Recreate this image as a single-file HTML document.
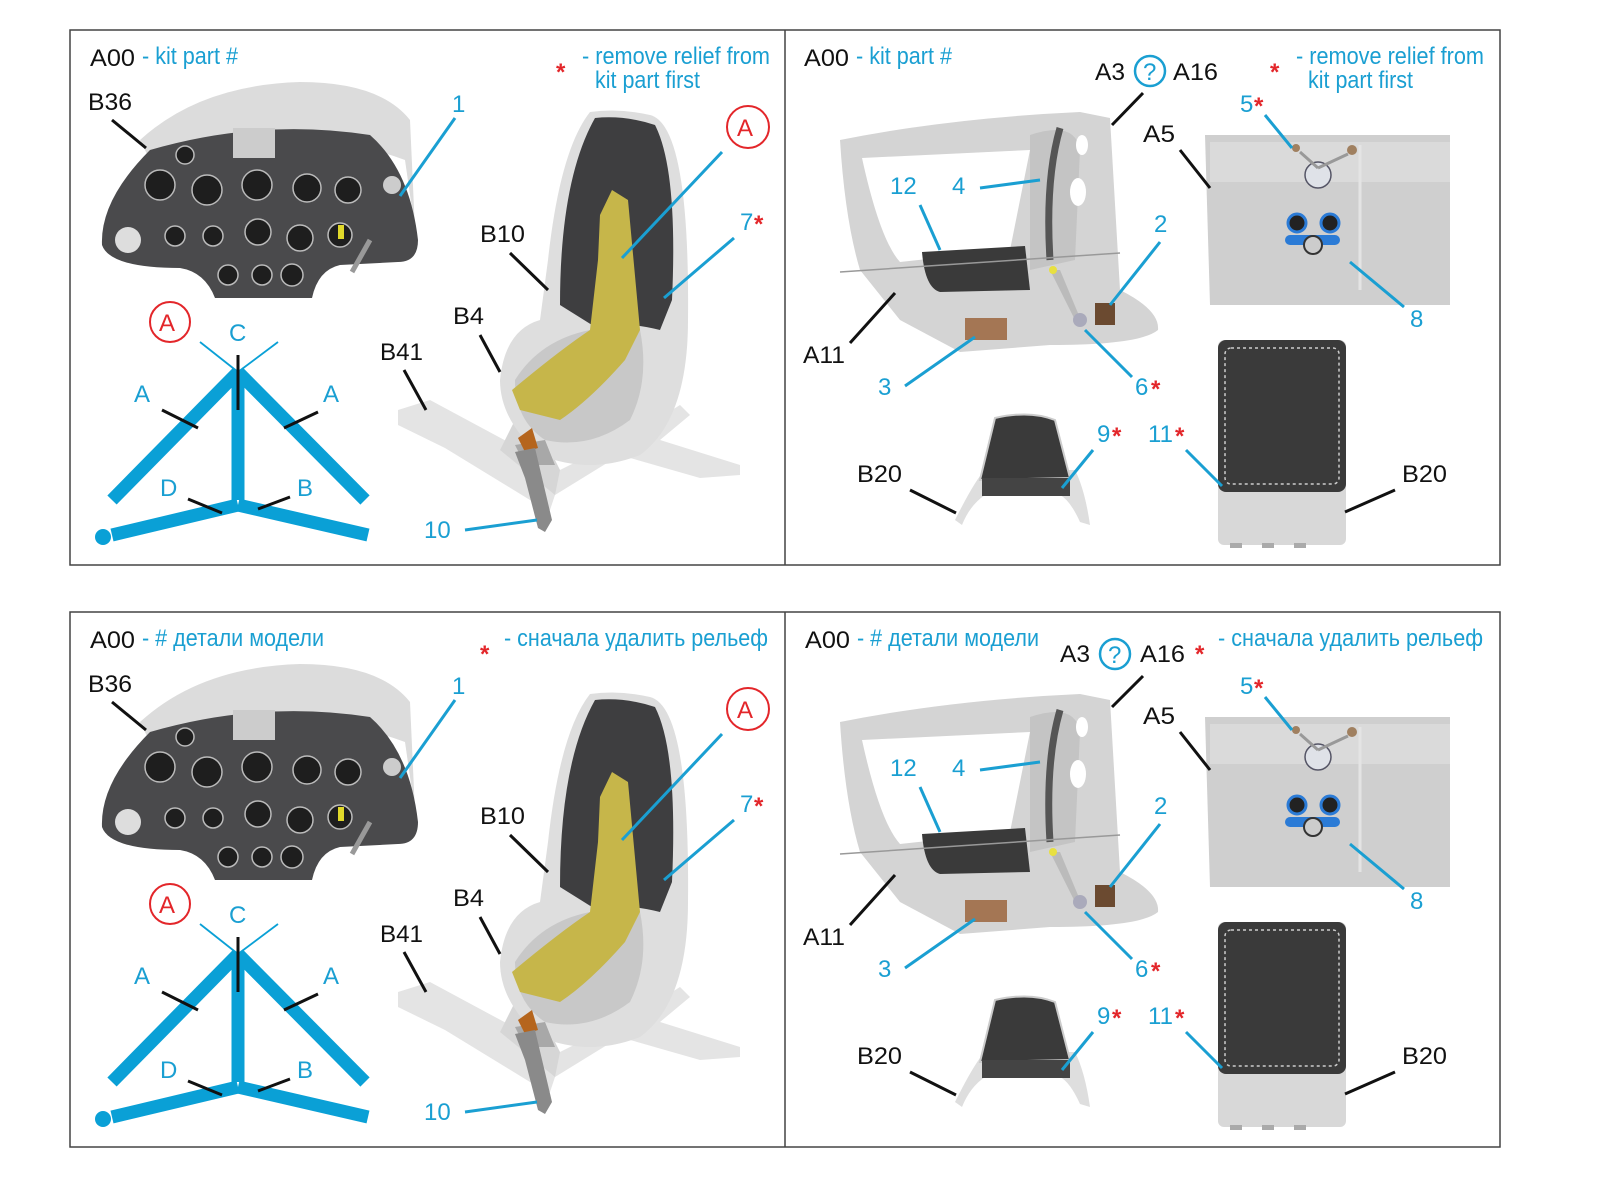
<!DOCTYPE html>
<html><head><meta charset="utf-8"><style>
html,body{margin:0;padding:0;background:#fff;overflow:hidden;width:1600px;height:1200px}
svg{display:block}
text{font-family:"Liberation Sans","DejaVu Sans",sans-serif;font-size:24px}
.k{fill:#111}.b{fill:#1a9fd2}.r{fill:#e3262a;font-weight:bold}
.lk{stroke:#111;stroke-width:3;fill:none}
.lb{stroke:#1a9fd2;stroke-width:3;fill:none}
</style></head><body>
<svg width="1600" height="1200" viewBox="0 0 1600 1200" xmlns="http://www.w3.org/2000/svg">
<defs>
<g id="G">
 <rect x="70" y="30" width="1430" height="535" fill="none" stroke="#444" stroke-width="1.5"/>
 <line x1="785" y1="30" x2="785" y2="565" stroke="#444" stroke-width="1.5"/>
 <path d="M140,140 Q200,85 300,82 Q380,82 410,120 L415,230 L405,160 Q300,120 150,160Z" fill="#dcdcdc"/>
 <path d="M150,150 Q260,118 370,135 Q410,170 418,240 Q418,262 398,262 L340,265 Q318,270 312,298 L215,298 Q205,272 180,268 Q110,268 102,245 Q100,200 150,150Z" fill="#4a4a4c"/>
 <g fill="#1e1e1e" stroke="#bbb" stroke-width="1.5">
  <circle cx="160" cy="185" r="15"/><circle cx="207" cy="190" r="15"/><circle cx="257" cy="185" r="15"/>
  <circle cx="307" cy="188" r="14"/><circle cx="348" cy="190" r="13"/><circle cx="185" cy="155" r="9"/>
  <circle cx="175" cy="236" r="10"/><circle cx="213" cy="236" r="10"/><circle cx="258" cy="232" r="13"/>
  <circle cx="300" cy="238" r="13"/><circle cx="340" cy="235" r="12"/>
  <circle cx="228" cy="275" r="10"/><circle cx="262" cy="275" r="10"/><circle cx="292" cy="275" r="11"/>
 </g>
 <rect x="233" y="128" width="42" height="30" fill="#ccc"/>
 <circle cx="128" cy="240" r="13" fill="#ddd"/><circle cx="392" cy="185" r="9" fill="#ccc"/>
 <rect x="338" y="225" width="6" height="14" fill="#e0d82a"/>
 <line x1="370" y1="240" x2="352" y2="272" stroke="#999" stroke-width="5"/>
 <path d="M398,410 L430,400 L560,470 L640,430 L680,405 L690,415 L660,440 L740,465 L740,475 L700,478 L620,455 L555,495 L550,510 L530,500 L445,448 L398,425Z" fill="#e4e4e4"/>
 <path d="M520,410 L540,430 L560,470 L555,495 L500,450Z" fill="#d6d6d6"/>
 <path d="M590,112 Q620,108 650,115 Q690,125 688,320 Q688,420 640,455 Q590,475 540,455 Q500,420 500,380 Q505,330 540,320 L548,260 Q560,150 590,112Z" fill="#dedede"/>
 <path d="M595,118 Q625,115 655,125 Q678,170 672,300 L660,330 Q620,320 600,330 L560,305 Q560,180 595,118Z" fill="#3e3e40"/>
 <path d="M515,380 Q540,340 590,330 L640,330 Q650,380 630,420 Q590,450 545,440 Q515,420 515,380Z" fill="#c8c8c8"/>
 <path d="M600,215 L612,190 L628,200 L640,330 L625,360 Q590,400 560,420 L520,410 L512,390 Q560,350 590,330 L598,260Z" fill="#c6b64a"/>
 <path d="M515,445 L545,440 L555,465 L525,465Z" fill="#a8a8a8"/>
 <path d="M518,438 L532,428 L538,448 L525,452Z" fill="#b5651d"/>
 <path d="M515,452 L535,448 L552,520 L545,532 L538,528 L525,478Z" fill="#8a8a8a"/>
 <g stroke="#0aa0d6" stroke-linecap="butt" fill="none">
  <line x1="200" y1="342" x2="238" y2="372" stroke-width="1.8"/>
  <line x1="278" y1="342" x2="238" y2="372" stroke-width="1.8"/>
  <line x1="238" y1="372" x2="112" y2="500" stroke-width="13"/>
  <line x1="238" y1="372" x2="365" y2="500" stroke-width="13"/>
  <line x1="238" y1="372" x2="238" y2="500" stroke-width="13"/>
  <line x1="238" y1="505" x2="112" y2="535" stroke-width="13"/>
  <line x1="238" y1="505" x2="368" y2="535" stroke-width="13"/>
 </g>
 <circle cx="103" cy="537" r="8" fill="#0aa0d6"/>
 <line x1="238" y1="355" x2="238" y2="410" class="lk"/>
 <line x1="162" y1="410" x2="198" y2="428" class="lk"/>
 <line x1="318" y1="412" x2="284" y2="428" class="lk"/>
 <line x1="188" y1="499" x2="222" y2="513" class="lk"/>
 <line x1="290" y1="497" x2="258" y2="509" class="lk"/>
 <circle cx="170" cy="322" r="20" fill="none" stroke="#e3262a" stroke-width="2"/>
 <circle cx="748" cy="127" r="21" fill="none" stroke="#e3262a" stroke-width="2"/>
 <line x1="112" y1="120" x2="146" y2="148" class="lk"/>
 <line x1="455" y1="118" x2="400" y2="196" class="lb"/>
 <line x1="510" y1="253" x2="548" y2="290" class="lk"/>
 <line x1="722" y1="152" x2="622" y2="258" class="lb"/>
 <line x1="734" y1="238" x2="664" y2="298" class="lb"/>
 <line x1="480" y1="335" x2="500" y2="372" class="lk"/>
 <line x1="404" y1="370" x2="426" y2="410" class="lk"/>
 <line x1="465" y1="530" x2="537" y2="520" class="lb"/>

 <path d="M840,140 Q950,118 1080,112 L1110,118 L1120,290 Q1160,310 1158,330 Q1140,345 1050,345 L960,352 L900,320 L860,270 Q845,220 840,140Z" fill="#d4d4d4"/>
 <path d="M862,158 L1030,150 L1010,250 L900,262 Q880,240 862,158Z" fill="#fff"/>
 <path d="M1030,135 Q1075,120 1080,150 L1075,260 L1030,270Z" fill="#c4c4c4"/>
 <ellipse cx="1078" cy="192" rx="8" ry="14" fill="#fff"/><ellipse cx="1082" cy="145" rx="6" ry="10" fill="#fff"/>
 <path d="M1060,128 Q1045,180 1050,260" stroke="#555" stroke-width="7" fill="none"/>
 <path d="M922,252 L1025,246 L1030,290 L940,292 Q925,288 922,252Z" fill="#3a3a3a"/>
 <rect x="965" y="318" width="42" height="22" fill="#a47654"/>
 <line x1="840" y1="272" x2="1120" y2="253" stroke="#999" stroke-width="1.5"/>
 <path d="M1050,270 L1075,320 L1080,318 L1060,270Z" fill="#bbb"/>
 <circle cx="1080" cy="320" r="7" fill="#aab"/><rect x="1095" y="303" width="20" height="22" fill="#6b4a30"/>
 <circle cx="1053" cy="270" r="4" fill="#e8e040"/>
 <path d="M1205,135 L1450,135 L1450,305 L1210,305Z" fill="#cfcfcf"/>
 <rect x="1210" y="142" width="240" height="40" fill="#dadada"/>
 <line x1="1360" y1="145" x2="1360" y2="290" stroke="#e4e4e4" stroke-width="3"/>
 <circle cx="1318" cy="175" r="13" fill="#dfe2e8" stroke="#556" stroke-width="1.5"/>
 <circle cx="1296" cy="148" r="4" fill="#a08060"/><circle cx="1352" cy="150" r="5" fill="#a08060"/>
 <line x1="1300" y1="152" x2="1318" y2="168" stroke="#999" stroke-width="3"/><line x1="1348" y1="154" x2="1318" y2="168" stroke="#999" stroke-width="3"/>
 <circle cx="1297" cy="223" r="9" fill="#222" stroke="#2b7bd6" stroke-width="3"/>
 <circle cx="1330" cy="223" r="9" fill="#222" stroke="#2b7bd6" stroke-width="3"/>
 <rect x="1285" y="235" width="55" height="10" rx="5" fill="#2b7bd6"/>
 <circle cx="1313" cy="245" r="9" fill="#ccc" stroke="#333" stroke-width="2"/>
 <rect x="1218" y="340" width="128" height="205" rx="6" fill="#d8d8d8"/>
 <rect x="1218" y="340" width="128" height="152" rx="8" fill="#3a3a3a"/>
 <rect x="1225" y="348" width="114" height="136" rx="6" fill="none" stroke="#ccc" stroke-width="1.5" stroke-dasharray="3 3"/>
 <rect x="1230" y="543" width="12" height="5" fill="#aaa"/><rect x="1262" y="543" width="12" height="5" fill="#aaa"/><rect x="1294" y="543" width="12" height="5" fill="#aaa"/>
 <path d="M955,520 Q975,480 985,470 L1075,470 Q1085,490 1090,525 L1080,522 Q1070,500 1060,495 L985,495 Q970,505 962,525Z" fill="#dedede"/>
 <path d="M995,418 Q1030,410 1055,420 L1070,478 L980,480Z" fill="#3a3a3a" stroke="#ccc" stroke-width="2"/>
 <rect x="982" y="478" width="88" height="18" fill="#444"/>
 <line x1="920" y1="205" x2="940" y2="250" class="lb"/>
 <line x1="980" y1="188" x2="1040" y2="180" class="lb"/>
 <line x1="1160" y1="242" x2="1110" y2="305" class="lb"/>
 <line x1="850" y1="343" x2="895" y2="293" class="lk"/>
 <line x1="905" y1="386" x2="975" y2="337" class="lb"/>
 <line x1="1132" y1="377" x2="1085" y2="330" class="lb"/>
 <line x1="1180" y1="150" x2="1210" y2="188" class="lk"/>
 <line x1="1265" y1="115" x2="1292" y2="148" class="lb"/>
 <line x1="1404" y1="307" x2="1350" y2="262" class="lb"/>
 <line x1="1062" y1="488" x2="1093" y2="450" class="lb"/>
 <line x1="1186" y1="450" x2="1222" y2="486" class="lb"/>
 <line x1="910" y1="490" x2="956" y2="513" class="lk"/>
 <line x1="1395" y1="490" x2="1345" y2="512" class="lk"/>
</g>
<g id="L">
 <text x="88" y="110" class="k" textLength="44" lengthAdjust="spacingAndGlyphs">B36</text>
 <text x="452" y="112" class="b">1</text>
 <text x="737" y="136" fill="#e3262a" font-size="26">A</text>
 <text x="480" y="242" class="k" textLength="45" lengthAdjust="spacingAndGlyphs">B10</text>
 <text x="740" y="230" class="b">7</text><text x="754" y="232" class="r" font-size="30">*</text>
 <text x="453" y="324" class="k" textLength="31" lengthAdjust="spacingAndGlyphs">B4</text>
 <text x="380" y="360" class="k" textLength="43" lengthAdjust="spacingAndGlyphs">B41</text>
 <text x="424" y="538" class="b">10</text>
 <text x="159" y="331" fill="#e3262a" font-size="26">A</text>
 <text x="229" y="341" class="b">C</text>
 <text x="134" y="402" class="b">A</text><text x="323" y="402" class="b">A</text>
 <text x="160" y="496" class="b">D</text><text x="297" y="496" class="b">B</text>
 <text x="803" y="363" class="k" textLength="42" lengthAdjust="spacingAndGlyphs">A11</text>
 <text x="890" y="194" class="b">12</text><text x="952" y="194" class="b">4</text>
 <text x="1154" y="232" class="b">2</text>
 <text x="878" y="395" class="b">3</text>
 <text x="1135" y="395" class="b">6</text><text x="1151" y="397" class="r" font-size="30">*</text>
 <text x="1143" y="142" class="k" textLength="32" lengthAdjust="spacingAndGlyphs">A5</text>
 <text x="1240" y="112" class="b">5</text><text x="1254" y="114" class="r" font-size="30">*</text>
 <text x="1410" y="327" class="b">8</text>
 <text x="1097" y="442" class="b">9</text><text x="1112" y="444" class="r" font-size="30">*</text>
 <text x="1148" y="442" class="b">11</text><text x="1175" y="444" class="r" font-size="30">*</text>
 <text x="857" y="482" class="k" textLength="45" lengthAdjust="spacingAndGlyphs">B20</text>
 <text x="1402" y="482" class="k" textLength="45" lengthAdjust="spacingAndGlyphs">B20</text>
</g>
</defs>

<use href="#G"/>
<use href="#L"/>
<g transform="translate(0,582)"><use href="#G"/><use href="#L"/></g>

<text x="90" y="66" class="k" textLength="45" lengthAdjust="spacingAndGlyphs">A00</text>
<text x="142" y="64" class="b" font-size="21" textLength="96" lengthAdjust="spacingAndGlyphs">- kit part #</text>
<text x="556" y="80" class="r" font-size="40">*</text>
<text x="582" y="64" class="b" font-size="21" textLength="188" lengthAdjust="spacingAndGlyphs">- remove relief from</text>
<text x="595" y="88" class="b" font-size="21" textLength="105" lengthAdjust="spacingAndGlyphs">kit part first</text>
<text x="804" y="66" class="k" textLength="45" lengthAdjust="spacingAndGlyphs">A00</text>
<text x="856" y="64" class="b" font-size="21" textLength="96" lengthAdjust="spacingAndGlyphs">- kit part #</text>
<text x="1095" y="80" class="k" textLength="30" lengthAdjust="spacingAndGlyphs">A3</text>
<circle cx="1150" cy="71" r="15" fill="none" stroke="#1a9fd2" stroke-width="2.5"/>
<text x="1143" y="80" class="b" font-size="22">?</text>
<text x="1173" y="80" class="k" textLength="45" lengthAdjust="spacingAndGlyphs">A16</text>
<line x1="1143" y1="93" x2="1112" y2="125" class="lk"/>
<text x="1270" y="80" class="r" font-size="40">*</text>
<text x="1296" y="64" class="b" font-size="21" textLength="188" lengthAdjust="spacingAndGlyphs">- remove relief from</text>
<text x="1308" y="88" class="b" font-size="21" textLength="105" lengthAdjust="spacingAndGlyphs">kit part first</text>

<text x="90" y="648" class="k" textLength="45" lengthAdjust="spacingAndGlyphs">A00</text>
<text x="142" y="646" class="b" font-size="21" textLength="182" lengthAdjust="spacingAndGlyphs">- # детали модели</text>
<text x="480" y="662" class="r" font-size="40">*</text>
<text x="504" y="646" class="b" font-size="21" textLength="264" lengthAdjust="spacingAndGlyphs">- сначала удалить рельеф</text>
<text x="805" y="648" class="k" textLength="45" lengthAdjust="spacingAndGlyphs">A00</text>
<text x="857" y="646" class="b" font-size="21" textLength="182" lengthAdjust="spacingAndGlyphs">- # детали модели</text>
<text x="1060" y="662" class="k" textLength="30" lengthAdjust="spacingAndGlyphs">A3</text>
<circle cx="1115" cy="654" r="15" fill="none" stroke="#1a9fd2" stroke-width="2.5"/>
<text x="1108" y="663" class="b" font-size="22">?</text>
<text x="1140" y="662" class="k" textLength="45" lengthAdjust="spacingAndGlyphs">A16</text>
<line x1="1143" y1="676" x2="1112" y2="707" class="lk"/>
<text x="1195" y="662" class="r" font-size="40">*</text>
<text x="1218" y="646" class="b" font-size="21" textLength="265" lengthAdjust="spacingAndGlyphs">- сначала удалить рельеф</text>
</svg>
</body></html>
